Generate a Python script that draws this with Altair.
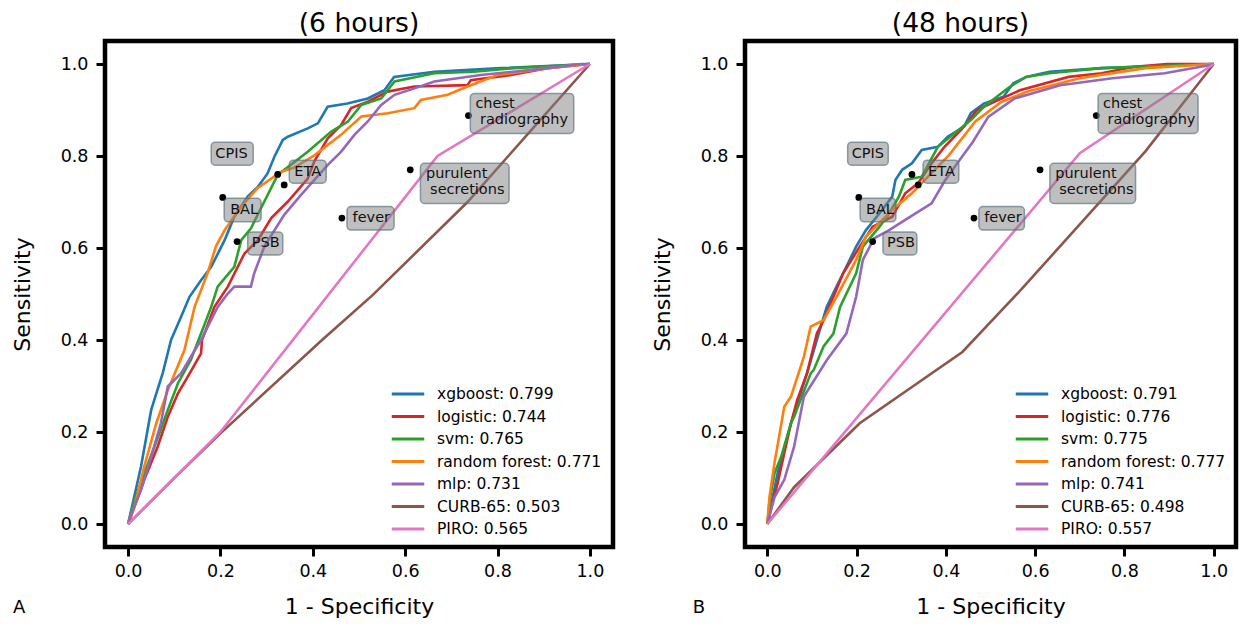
import altair as alt
import pandas as pd

MODELS = ["xgboost", "logistic", "svm", "random forest", "mlp", "CURB-65", "PIRO"]
COLORS = ["#1f77b4", "#d62728", "#2ca02c", "#ff7f0e", "#9467bd", "#8c564b", "#e377c2"]
AUC_6H = ["0.799", "0.744", "0.765", "0.771", "0.731", "0.503", "0.565"]
AUC_48H = ["0.791", "0.776", "0.775", "0.777", "0.741", "0.498", "0.557"]
TICKS = [0.0, 0.2, 0.4, 0.6, 0.8, 1.0]

# ---- 6 hours: (1 - specificity, sensitivity) ----
XGB_6H = [(0, 0), (0.028, 0.125), (0.05, 0.248), (0.075, 0.328), (0.093, 0.4), (0.115, 0.451),
          (0.133, 0.494), (0.158, 0.53), (0.18, 0.559), (0.209, 0.617), (0.23, 0.668), (0.259, 0.712),
          (0.281, 0.733), (0.302, 0.762), (0.317, 0.799), (0.335, 0.835), (0.346, 0.842), (0.389, 0.86),
          (0.411, 0.871), (0.432, 0.907), (0.475, 0.914), (0.519, 0.925), (0.555, 0.943), (0.576, 0.972),
          (0.663, 0.983), (0.807, 0.991), (1, 1)]
LOG_6H = [(0, 0), (0.014, 0.038), (0.035, 0.096), (0.064, 0.168), (0.086, 0.233), (0.108, 0.284),
          (0.129, 0.32), (0.158, 0.371), (0.16, 0.4), (0.187, 0.472), (0.216, 0.516), (0.252, 0.588),
          (0.281, 0.617), (0.31, 0.665), (0.346, 0.701), (0.389, 0.751), (0.403, 0.788), (0.432, 0.838),
          (0.461, 0.867), (0.483, 0.904), (0.519, 0.918), (0.562, 0.94), (0.62, 0.951), (0.735, 0.954),
          (0.742, 0.965), (0.829, 0.976), (0.908, 0.991), (1, 1)]
SVM_6H = [(0, 0), (0.014, 0.052), (0.035, 0.11), (0.057, 0.168), (0.086, 0.248), (0.108, 0.306),
          (0.136, 0.357), (0.158, 0.414), (0.18, 0.472), (0.194, 0.516), (0.23, 0.559), (0.245, 0.617),
          (0.266, 0.643), (0.295, 0.701), (0.324, 0.759), (0.389, 0.809), (0.44, 0.853), (0.476, 0.875),
          (0.505, 0.911), (0.548, 0.925), (0.577, 0.962), (0.663, 0.98), (0.749, 0.983), (0.836, 0.991),
          (1, 1)]
RF_6H = [(0, 0), (0.014, 0.038), (0.035, 0.125), (0.061, 0.219), (0.086, 0.291), (0.122, 0.378),
         (0.144, 0.472), (0.172, 0.545), (0.19, 0.603), (0.209, 0.639), (0.245, 0.69), (0.28, 0.73),
         (0.33, 0.765), (0.36, 0.775), (0.404, 0.802), (0.461, 0.846), (0.505, 0.886), (0.562, 0.893),
         (0.62, 0.904), (0.634, 0.922), (0.692, 0.933), (0.735, 0.951), (0.8, 0.976), (0.908, 0.991),
         (1, 1)]
MLP_6H = [(0, 0), (0.01, 0.03), (0.028, 0.074), (0.05, 0.146), (0.071, 0.219), (0.086, 0.299),
          (0.115, 0.328), (0.136, 0.364), (0.158, 0.4), (0.194, 0.472), (0.216, 0.501), (0.23, 0.516),
          (0.266, 0.516), (0.273, 0.545), (0.295, 0.603), (0.338, 0.672), (0.374, 0.715), (0.432, 0.78),
          (0.461, 0.809), (0.49, 0.846), (0.519, 0.875), (0.548, 0.911), (0.577, 0.933), (0.62, 0.947),
          (0.663, 0.962), (0.764, 0.976), (0.9, 0.99), (0.981, 1.0), (1, 1)]
CURB_6H = [(0, 0), (0.1, 0.1), (0.2, 0.197), (0.42, 0.4), (0.53, 0.498), (0.735, 0.7),
           (0.872, 0.855), (1, 1)]
PIRO_6H = [(0, 0), (0.2, 0.2), (0.67, 0.8), (1, 1)]

# ---- 48 hours ----
XGB_48H = [(0, 0), (0.023, 0.11), (0.053, 0.219), (0.089, 0.328), (0.111, 0.4), (0.133, 0.472),
           (0.155, 0.516), (0.177, 0.559), (0.199, 0.603), (0.221, 0.639), (0.251, 0.675), (0.28, 0.712),
           (0.287, 0.748), (0.302, 0.77), (0.324, 0.784), (0.346, 0.813), (0.382, 0.82), (0.404, 0.842),
           (0.441, 0.864), (0.456, 0.893), (0.485, 0.914), (0.529, 0.929), (0.551, 0.958), (0.58, 0.972),
           (0.632, 0.983), (0.749, 0.991), (1, 1)]
LOG_48H = [(0, 0), (0.01, 0.04), (0.023, 0.088), (0.038, 0.154), (0.053, 0.219), (0.067, 0.27),
           (0.089, 0.328), (0.111, 0.414), (0.126, 0.443), (0.17, 0.545), (0.207, 0.603), (0.236, 0.646),
           (0.28, 0.668), (0.309, 0.719), (0.338, 0.741), (0.368, 0.784), (0.397, 0.82), (0.434, 0.857),
           (0.47, 0.9), (0.5, 0.914), (0.566, 0.943), (0.675, 0.972), (0.749, 0.98), (0.822, 0.994),
           (0.895, 1.0), (1, 1)]
SVM_48H = [(0, 0), (0.005, 0.05), (0.016, 0.11), (0.031, 0.146), (0.053, 0.219), (0.06, 0.233),
           (0.097, 0.327), (0.104, 0.335), (0.126, 0.386), (0.148, 0.414), (0.163, 0.472), (0.199, 0.545),
           (0.214, 0.603), (0.251, 0.646), (0.273, 0.675), (0.295, 0.712), (0.309, 0.748), (0.346, 0.755),
           (0.382, 0.82), (0.419, 0.849), (0.456, 0.878), (0.485, 0.907), (0.544, 0.951), (0.58, 0.972),
           (0.632, 0.98), (0.749, 0.991), (1, 1)]
RF_48H = [(0, 0), (0.005, 0.06), (0.016, 0.132), (0.038, 0.255), (0.053, 0.277), (0.082, 0.364),
          (0.097, 0.429), (0.126, 0.443), (0.155, 0.494), (0.199, 0.574), (0.221, 0.625), (0.251, 0.654),
          (0.28, 0.683), (0.324, 0.719), (0.353, 0.748), (0.407, 0.802), (0.466, 0.875), (0.525, 0.918),
          (0.583, 0.94), (0.7, 0.969), (0.847, 0.991), (1, 1)]
MLP_48H = [(0, 0), (0.016, 0.058), (0.038, 0.096), (0.06, 0.168), (0.082, 0.277), (0.133, 0.356),
           (0.177, 0.414), (0.199, 0.494), (0.214, 0.574), (0.239, 0.621), (0.273, 0.639), (0.309, 0.661),
           (0.368, 0.697), (0.397, 0.745), (0.43, 0.79), (0.46, 0.83), (0.495, 0.885), (0.554, 0.925),
           (0.656, 0.954), (0.773, 0.969), (0.89, 0.98), (0.993, 0.998), (1, 1)]
CURB_48H = [(0, 0), (0.06, 0.08), (0.207, 0.219), (0.437, 0.374), (0.569, 0.51), (0.847, 0.81), (1, 1)]
PIRO_48H = [(0, 0), (0.7, 0.806), (1, 1)]

# ---- clinical criteria points (same in both panels) ----
CLINICAL = ["CPIS", "ETA", "BAL", "PSB", "fever", "purulent secretions", "chest radiography"]
CLIN_FPR = [0.324, 0.338, 0.205, 0.236, 0.463, 0.611, 0.737]
CLIN_TPR = [0.760, 0.737, 0.710, 0.614, 0.665, 0.770, 0.888]

# annotation boxes (data coordinates)
BOX_X0 = [0.180, 0.349, 0.208, 0.259, 0.474, 0.633, 0.741]
BOX_X1 = [0.271, 0.429, 0.288, 0.335, 0.576, 0.825, 0.965]
BOX_Y0 = [0.780, 0.741, 0.657, 0.585, 0.639, 0.697, 0.849]
BOX_Y1 = [0.830, 0.791, 0.708, 0.635, 0.690, 0.784, 0.936]
LABEL_LINES = ["CPIS", "ETA", "BAL", "PSB", "fever", "purulent", "secretions", "chest", "radiography"]
LABEL_X = [0.189, 0.360, 0.221, 0.268, 0.486, 0.645, 0.654, 0.752, 0.762]
LABEL_Y = [0.805, 0.766, 0.683, 0.610, 0.665, 0.761, 0.726, 0.913, 0.878]

FONT = "DejaVu Sans"


def curves_frame(curves, aucs):
    rows = []
    labels = []
    for m, auc, pts in zip(MODELS, aucs, curves):
        lab = f"{m}: {auc}"
        labels.append(lab)
        for i, (x, y) in enumerate(pts):
            rows.append({"label": lab, "i": i, "fpr": x, "tpr": y})
    return pd.DataFrame(rows), labels


def panel(curves, aucs, title, letter, width, height, title_dx, legend_x, letter_x, letter_align):
    df, labels = curves_frame(curves, aucs)
    xs = alt.Scale(domain=[-0.05, 1.05], nice=False, zero=False)
    ys = alt.Scale(domain=[-0.05, 1.05], nice=False, zero=False)
    xax = alt.Axis(values=TICKS, format=".1f", title="1 - Specificity", grid=False, domain=False,
                   tickSize=9, tickWidth=3, tickColor="black", labelFontSize=17.5, labelColor="black",
                   labelFont=FONT, labelPadding=6, titleFontSize=22, titleFont=FONT,
                   titleFontWeight="normal", titleColor="black", titlePadding=17)
    yax = alt.Axis(values=TICKS, format=".1f", title="Sensitivity", grid=False, domain=False,
                   tickSize=9, tickWidth=3, tickColor="black", labelFontSize=17.5, labelColor="black",
                   labelFont=FONT, labelPadding=8, titleFontSize=22, titleFont=FONT,
                   titleFontWeight="normal", titleColor="black", titlePadding=26)

    def X(f):
        return alt.X(f, scale=xs, axis=xax)

    def Y(f):
        return alt.Y(f, scale=ys, axis=yax)

    lines = alt.Chart(df).mark_line(strokeWidth=2.6, clip=True).encode(
        x=X("fpr:Q"), y=Y("tpr:Q"),
        color=alt.Color("label:N", scale=alt.Scale(domain=labels, range=COLORS),
                        sort=labels,
                        legend=alt.Legend(orient="none", legendX=legend_x, legendY=345, title=None,
                                          symbolType="M-2.5,0H2.5", symbolSize=169,
                                          symbolStrokeWidth=3, labelFontSize=15.5, labelFont=FONT,
                                          labelColor="black", rowPadding=5.5, labelOffset=21,
                                          labelLimit=400, padding=0)),
        order=alt.Order("i:Q"),
    )

    pts = pd.DataFrame({"name": CLINICAL, "fpr": CLIN_FPR, "tpr": CLIN_TPR})
    dots = alt.Chart(pts).mark_point(filled=True, color="black", size=46, opacity=1).encode(
        x=X("fpr:Q"), y=Y("tpr:Q"))

    bx = pd.DataFrame({"name": CLINICAL, "fpr": BOX_X0, "fpr2": BOX_X1, "tpr": BOX_Y0, "tpr2": BOX_Y1})
    boxes = alt.Chart(bx).mark_rect(fill="#808080", fillOpacity=0.5, stroke="#54707c",
                                    strokeOpacity=0.65, strokeWidth=1.5, cornerRadius=4).encode(
        x=X("fpr:Q"), x2="fpr2:Q", y=Y("tpr:Q"), y2="tpr2:Q")

    lt = pd.DataFrame({"text": LABEL_LINES, "fpr": LABEL_X, "tpr": LABEL_Y})
    texts = alt.Chart(lt).mark_text(align="left", baseline="middle", fontSize=14.5, font=FONT,
                                    color="#111111").encode(
        x=X("fpr:Q"), y=Y("tpr:Q"), text="text:N")

    lett = alt.Chart(pd.DataFrame({"t": [letter]})).mark_text(
        fontSize=18, font=FONT, color="black", align=letter_align, baseline="middle").encode(
        x=alt.value(letter_x), y=alt.value(567), text="t:N")

    return alt.layer(lines, dots, boxes, texts, lett).properties(
        width=width, height=height,
        title=alt.TitleParams(title, fontSize=26.5, font=FONT, fontWeight="normal", color="black",
                              offset=4, anchor="middle", dx=title_dx))


left = panel([XGB_6H, LOG_6H, SVM_6H, RF_6H, MLP_6H, CURB_6H, PIRO_6H], AUC_6H,
             "(6 hours)", "A", 508, 506, 0, 295, -92, "left")
right = panel([XGB_48H, LOG_48H, SVM_48H, RF_48H, MLP_48H, CURB_48H, PIRO_48H], AUC_48H,
              "(48 hours)", "B", 491, 506, -30, 279, -46, "center")

chart = alt.hconcat(left, right, spacing=32).resolve_scale(color="independent").properties(
    padding={"left": 0, "top": 0, "right": 0, "bottom": 0}, background="white"
).configure_view(stroke="black", strokeWidth=4.5)

chart.save("out.html", embed_options={"renderer": "svg", "actions": False})
